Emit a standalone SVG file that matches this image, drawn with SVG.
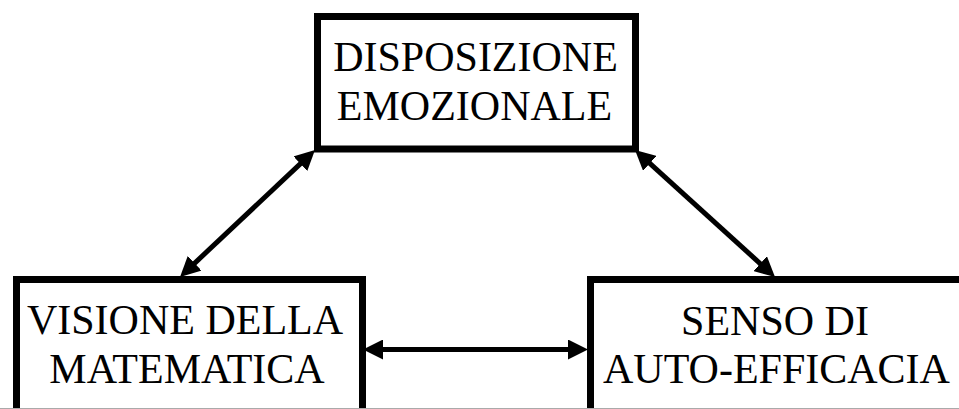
<svg xmlns="http://www.w3.org/2000/svg" width="959" height="409" viewBox="0 0 959 409">
<style>
.box{fill:#fff;stroke:#000;stroke-width:7}
.t{font-family:"Liberation Serif","Times New Roman",serif;font-size:42px;fill:#000;text-anchor:middle}
.c{stroke:#000;stroke-width:5;fill:none;marker-start:url(#ah);marker-end:url(#ah)}
</style>
<defs>
<marker id="ah" markerUnits="userSpaceOnUse" markerWidth="20" markerHeight="20" refX="10" refY="10" orient="auto-start-reverse" viewBox="0 0 20 20">
<path d="M0,0 L20,10 L0,20 z" fill="#000"/>
</marker>
</defs>
<rect width="959" height="409" fill="#fff"/>
<g id="node-disposizione">
<rect class="box" x="317.5" y="16.5" width="318" height="132.5"/>
<text class="t" x="475.5" y="71">DISPOSIZIONE</text>
<text class="t" x="474.5" y="120">EMOZIONALE</text>
</g>
<g id="node-visione">
<rect class="box" x="16.5" y="279.5" width="346" height="200"/>
<text class="t" x="185" y="334">VISIONE DELLA</text>
<text class="t" x="187" y="383">MATEMATICA</text>
</g>
<g id="node-senso">
<rect class="box" x="590.5" y="279.5" width="400" height="200"/>
<text class="t" x="775" y="335">SENSO DI</text>
<text class="t" x="776.5" y="383">AUTO-EFFICACIA</text>
</g>
<g id="connectors">
<line class="c" x1="187.3" y1="270.1" x2="307.7" y2="156.9"/>
<line class="c" x1="642.4" y1="156.7" x2="767.6" y2="270.3"/>
<line class="c" x1="373" y1="349.5" x2="578" y2="349.5"/>
</g>
<line x1="0" y1="408.5" x2="959" y2="408.5" stroke="#aaa" stroke-width="1"/>
</svg>
